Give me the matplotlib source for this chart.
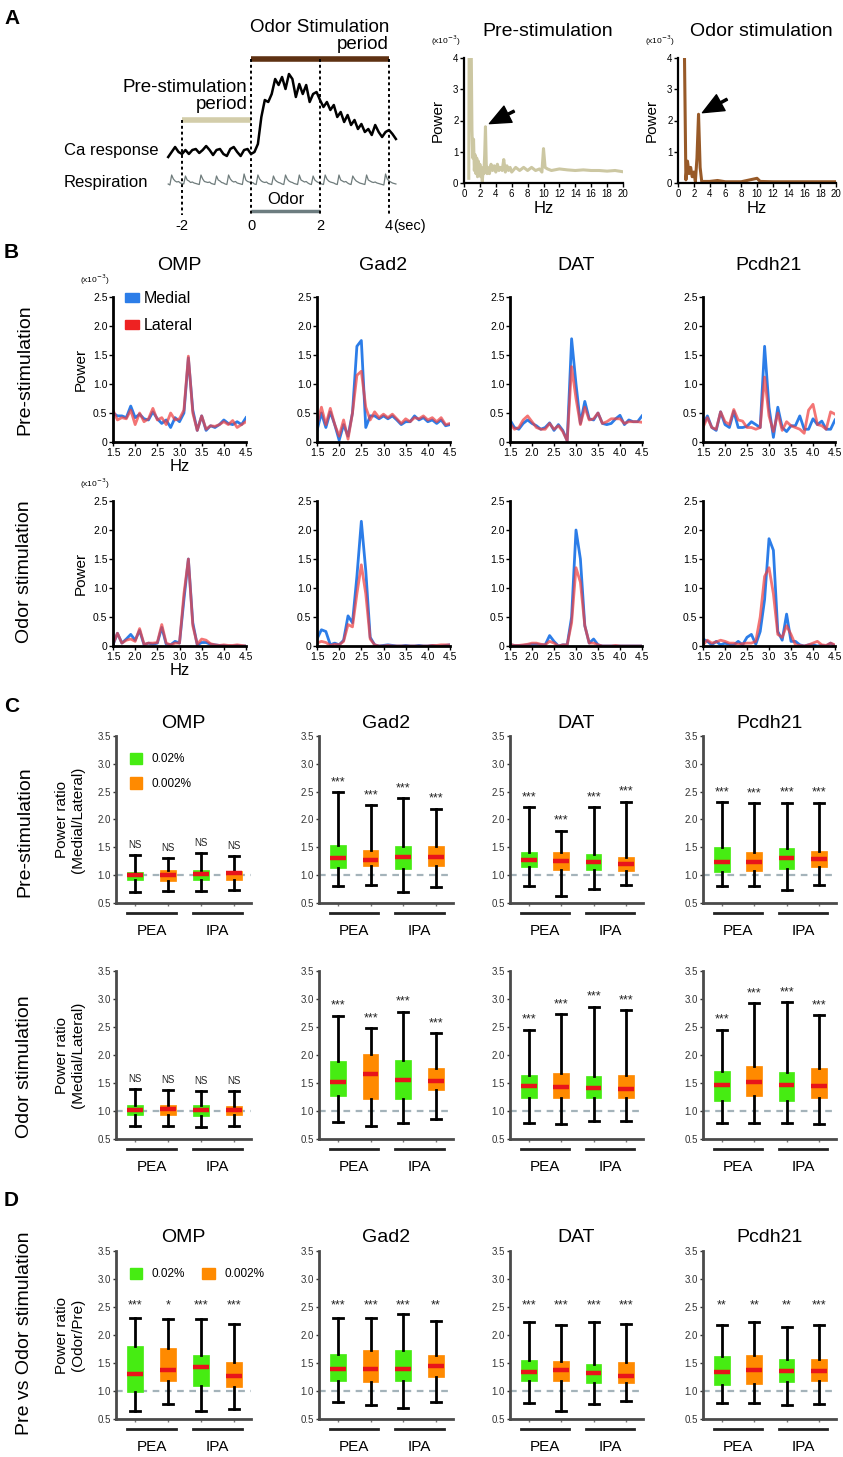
import numpy as np
import matplotlib
matplotlib.use('Agg')
import matplotlib.pyplot as plt
from matplotlib.patches import Patch
from matplotlib.transforms import blended_transform_factory

plt.rcParams['font.family'] = ['Liberation Sans', 'DejaVu Sans']

## ---------------- data ----------------
# Panel A, example traces (0.1 s / 0.05 s steps), heights in arbitrary units
ca_t = np.round(np.arange(-2.4, 4.21, 0.1), 2)
ca_resp = [-5, 0, 5, 0, -2, 2, -2, 2, 3, -1, 2, 6, 2, -3, 2, 3, -2, -4, 3, 5,
           0, -4, 2, 3, -2, 0, 8, 35, 52, 50, 58, 73, 67, 75, 63, 78, 73, 55, 68, 58,
           67, 50, 58, 60, 52, 45, 50, 42, 47, 35, 40, 30, 37, 27, 32, 23, 28, 20, 23, 17,
           27, 20, 15, 20, 22, 18, 13]
resp_t = np.round(np.arange(-2.4, 4.21, 0.05), 2)
resp = [1, 0, 10, 6, 4, 3, 3.5, 2, 1.5, 1,
        9, 5, 4, 2.5, 3, 2, 1.5, 1, 0.5,
        10, 6, 3.5, 3, 2.5, 3, 1.5, 1, 0.5,
        9, 5, 4, 2.5, 2, 1, 0.5,
        10, 6, 4, 3, 3.5, 2, 1.5, 1, 0.5,
        11, 5, 3.5, 3, 2, 2.5, 1, 0.5,
        10, 6, 4, 3, 2.5, 3, 1.5, 1, 0.5,
        9, 5, 3.5, 2.5, 2, 1, 0.5,
        10, 6, 4, 3, 2.5, 1.5, 1, 0.5,
        10, 5, 4, 3, 3.5, 2, 1, 0.5,
        9, 5, 3.5, 2.5, 2, 1, 0.5,
        10, 6, 4, 3, 2.5, 2, 1, 0.5,
        10, 5, 4, 3, 3.5, 2, 1, 0.5,
        9, 6, 4, 3, 2, 1.5, 1, 0.5,
        10, 5, 4, 3, 2.5, 3, 2, 1.5, 1, 0.5, 0,
        11, 6, 4, 3, 2, 1.5, 1]
pre_period = (-2, 0)
odor_period = (0, 4)
odor_on = (0, 2)

# Panel A, whole spectra (x10^-3)
pre_f = [0.6, 0.65, 0.9, 1.0, 1.1, 1.2, 1.3, 1.4, 1.5, 1.6, 1.7, 1.8, 1.9, 2.0, 2.1, 2.2,
         2.3, 2.4, 2.5, 2.6, 2.7, 2.8, 2.9, 3.0, 3.2, 3.4, 3.6, 3.8, 4.0, 4.2, 4.4, 4.6,
         4.8, 5.0, 5.2, 5.4, 5.6, 5.8, 6.0, 6.5, 7.0, 7.5, 8.0, 8.5, 9.0, 9.5, 9.8, 10.0,
         10.2, 10.5, 11, 12, 13, 14, 15, 16, 17, 18, 19, 20]
pre_p = [0.15, 4.5, 4.5, 1.7, 0.8, 1.4, 0.4, 0.9, 0.3, 0.8, 0.2, 0.7, 0.3, 0.6, 0.2, 0.5,
         0.05, 0.4, 0.3, 0.9, 1.8, 0.6, 0.3, 0.5, 0.3, 0.6, 0.4, 0.55, 0.35, 0.6, 0.4, 0.5,
         0.4, 0.75, 0.35, 0.55, 0.4, 0.5, 0.35, 0.5, 0.4, 0.5, 0.4, 0.5, 0.4, 0.45, 0.35, 1.1,
         0.5, 0.45, 0.4, 0.45, 0.42, 0.4, 0.42, 0.4, 0.4, 0.38, 0.4, 0.36]
odor_f = [0.8, 1.0, 1.2, 1.4, 1.6, 1.8, 2.0, 2.2, 2.4, 2.6, 2.8, 3.0, 4, 5, 6, 8, 10, 10.4,
          12, 14, 16, 18, 20]
odor_p = [4.5, 0.1, 0.7, 0.3, 0.5, 0.2, 0.35, 0.05, 0.8, 2.2, 0.5, 0.05, 0.05, 0.08, 0.04,
          0.04, 0.15, 0.05, 0.04, 0.04, 0.04, 0.04, 0.04]

# Panel B, spectra 1.5-4.5 Hz (x10^-3)
hz = np.round(np.arange(1.5, 4.51, 0.1), 2)
omp_pre_med = [0.50, 0.45, 0.45, 0.42, 0.62, 0.42, 0.48, 0.40, 0.38, 0.52, 0.40, 0.32, 0.38, 0.25, 0.42, 0.35,
               0.50, 1.45, 0.55, 0.20, 0.45, 0.20, 0.28, 0.25, 0.30, 0.38, 0.32, 0.30, 0.35, 0.30, 0.42]
omp_pre_lat = [0.55, 0.38, 0.42, 0.40, 0.55, 0.30, 0.50, 0.35, 0.40, 0.58, 0.38, 0.42, 0.30, 0.50, 0.38, 0.40,
               0.55, 1.48, 0.50, 0.20, 0.45, 0.22, 0.28, 0.27, 0.30, 0.35, 0.30, 0.37, 0.25, 0.30, 0.35]
gad2_pre_med = [0.20, 0.50, 0.25, 0.52, 0.30, 0.03, 0.30, 0.10, 0.50, 1.65, 1.75, 0.25, 0.45, 0.45, 0.40, 0.45,
                0.40, 0.45, 0.38, 0.30, 0.35, 0.35, 0.45, 0.38, 0.42, 0.35, 0.38, 0.32, 0.38, 0.28, 0.30]
gad2_pre_lat = [0.30, 0.60, 0.30, 0.58, 0.30, 0.10, 0.38, 0.05, 0.50, 1.15, 1.22, 0.60, 0.38, 0.52, 0.42, 0.48,
                0.42, 0.48, 0.40, 0.32, 0.40, 0.35, 0.42, 0.40, 0.45, 0.38, 0.42, 0.35, 0.42, 0.30, 0.32]
dat_pre_med = [0.38, 0.25, 0.22, 0.32, 0.38, 0.32, 0.28, 0.22, 0.25, 0.33, 0.20, 0.30, 0.20, 0.02, 1.78, 1.00,
               0.32, 0.70, 0.40, 0.38, 0.50, 0.32, 0.30, 0.32, 0.40, 0.46, 0.30, 0.38, 0.35, 0.35, 0.45]
dat_pre_lat = [0.32, 0.22, 0.25, 0.38, 0.45, 0.35, 0.25, 0.22, 0.22, 0.32, 0.22, 0.28, 0.18, 0.02, 1.30, 0.75,
               0.30, 0.60, 0.38, 0.40, 0.50, 0.32, 0.35, 0.40, 0.40, 0.40, 0.32, 0.35, 0.35, 0.35, 0.34]
pcdh_pre_med = [0.30, 0.45, 0.25, 0.20, 0.52, 0.30, 0.25, 0.53, 0.25, 0.25, 0.27, 0.35, 0.30, 0.25, 1.65, 0.60,
                0.08, 0.60, 0.25, 0.18, 0.28, 0.28, 0.45, 0.22, 0.22, 0.40, 0.30, 0.36, 0.22, 0.22, 0.38]
pcdh_pre_lat = [0.25, 0.42, 0.25, 0.22, 0.52, 0.35, 0.30, 0.56, 0.38, 0.36, 0.25, 0.25, 0.22, 0.25, 1.12, 0.45,
                0.18, 0.50, 0.20, 0.35, 0.28, 0.25, 0.22, 0.15, 0.55, 0.65, 0.30, 0.28, 0.22, 0.52, 0.48]
omp_odor_med = [0.02, 0.22, 0.05, 0.12, 0.20, 0.10, 0.27, 0.02, 0.05, 0.03, 0.05, 0.32, 0.03, 0.02, 0.08, 0.05,
                0.80, 1.50, 0.40, 0.02, 0.06, 0.06, 0.03, 0.02, 0.01, 0.01, 0.00, 0.00, 0.01, 0.00, 0.00]
omp_odor_lat = [0.03, 0.22, 0.05, 0.10, 0.12, 0.08, 0.30, 0.03, 0.05, 0.05, 0.06, 0.37, 0.05, 0.02, 0.05, 0.05,
                0.90, 1.50, 0.35, 0.03, 0.12, 0.10, 0.04, 0.02, 0.01, 0.02, 0.01, 0.01, 0.02, 0.01, 0.00]
gad2_odor_med = [0.12, 0.28, 0.25, 0.02, 0.05, 0.02, 0.10, 0.52, 0.40, 1.20, 2.15, 1.30, 0.15, 0.02, 0.00, 0.01,
                 0.02, 0.01, 0.00, 0.00, 0.01, 0.00, 0.00, 0.01, 0.00, 0.00, 0.01, 0.00, 0.00, 0.01, 0.02]
gad2_odor_lat = [0.05, 0.08, 0.06, 0.01, 0.03, 0.02, 0.08, 0.37, 0.33, 0.90, 1.40, 0.90, 0.12, 0.02, 0.00, 0.00,
                 0.01, 0.00, 0.00, 0.00, 0.00, 0.00, 0.00, 0.00, 0.00, 0.00, 0.01, 0.01, 0.02, 0.02, 0.02]
dat_odor_med = [0.02, 0.01, 0.01, 0.01, 0.02, 0.03, 0.03, 0.02, 0.02, 0.18, 0.08, 0.00, 0.02, 0.02, 0.50, 2.00,
                1.50, 0.35, 0.05, 0.12, 0.02, 0.00, 0.00, 0.00, 0.00, 0.00, 0.00, 0.00, 0.00, 0.00, 0.00]
dat_odor_lat = [0.03, 0.01, 0.01, 0.02, 0.03, 0.05, 0.05, 0.03, 0.02, 0.08, 0.05, 0.00, 0.02, 0.02, 0.40, 1.35,
                1.10, 0.35, 0.05, 0.05, 0.02, 0.00, 0.00, 0.00, 0.01, 0.00, 0.00, 0.00, 0.00, 0.00, 0.00]
pcdh_odor_med = [0.12, 0.08, 0.02, 0.08, 0.02, 0.05, 0.02, 0.02, 0.08, 0.02, 0.15, 0.20, 0.03, 0.25, 0.80, 1.85,
                 1.65, 0.25, 0.10, 0.55, 0.08, 0.08, 0.02, 0.00, 0.02, 0.02, 0.00, 0.01, 0.00, 0.05, 0.00]
pcdh_odor_lat = [0.02, 0.10, 0.05, 0.07, 0.10, 0.08, 0.05, 0.05, 0.03, 0.04, 0.05, 0.05, 0.08, 0.50, 1.20, 1.35,
                 0.90, 0.20, 0.15, 0.35, 0.20, 0.02, 0.01, 0.00, 0.02, 0.05, 0.08, 0.02, 0.01, 0.05, 0.02]

genes = ['OMP', 'Gad2', 'DAT', 'Pcdh21']
odors = ['PEA', 'IPA']
concs = ['0.02%', '0.002%']

# Panels C/D box stats per box: [whisker low, Q1, median, Q3, whisker high]
c_pre_omp = [[0.69, 0.92, 1.00, 1.05, 1.37], [0.71, 0.89, 1.00, 1.10, 1.31], [0.71, 0.92, 1.02, 1.09, 1.40], [0.74, 0.92, 1.03, 1.08, 1.35]]
c_pre_gad2 = [[0.81, 1.13, 1.31, 1.55, 2.49], [0.82, 1.16, 1.28, 1.45, 2.26], [0.70, 1.11, 1.32, 1.52, 2.38], [0.79, 1.17, 1.33, 1.52, 2.19]]
c_pre_dat = [[0.80, 1.14, 1.27, 1.41, 2.22], [0.63, 1.09, 1.25, 1.41, 1.80], [0.75, 1.09, 1.23, 1.38, 2.22], [0.82, 1.08, 1.20, 1.33, 2.32]]
c_pre_pcdh = [[0.81, 1.05, 1.24, 1.51, 2.31], [0.81, 1.08, 1.24, 1.42, 2.29], [0.74, 1.11, 1.30, 1.48, 2.30], [0.83, 1.15, 1.29, 1.44, 2.30]]
c_odor_omp = [[0.73, 0.92, 1.01, 1.10, 1.40], [0.73, 0.93, 1.03, 1.11, 1.38], [0.72, 0.91, 1.01, 1.11, 1.35], [0.74, 0.93, 1.02, 1.09, 1.35]]
c_odor_gad2 = [[0.80, 1.26, 1.51, 1.90, 2.70], [0.74, 1.21, 1.66, 2.01, 2.48], [0.79, 1.21, 1.55, 1.91, 2.77], [0.85, 1.38, 1.54, 1.77, 2.39]]
c_odor_dat = [[0.79, 1.23, 1.45, 1.64, 2.45], [0.77, 1.24, 1.43, 1.67, 2.73], [0.82, 1.23, 1.41, 1.63, 2.86], [0.82, 1.24, 1.40, 1.64, 2.80]]
c_odor_pcdh = [[0.79, 1.18, 1.46, 1.71, 2.45], [0.78, 1.26, 1.51, 1.80, 2.92], [0.78, 1.18, 1.46, 1.70, 2.94], [0.77, 1.24, 1.45, 1.76, 2.71]]
d_omp = [[0.64, 0.98, 1.31, 1.81, 2.31], [0.76, 1.18, 1.37, 1.76, 2.29], [0.64, 1.09, 1.43, 1.65, 2.28], [0.67, 1.07, 1.27, 1.52, 2.20]]
d_gad2 = [[0.80, 1.18, 1.40, 1.66, 2.30], [0.75, 1.16, 1.40, 1.73, 2.30], [0.70, 1.18, 1.40, 1.73, 2.37], [0.80, 1.25, 1.44, 1.65, 2.25]]
d_dat = [[0.79, 1.17, 1.34, 1.55, 2.23], [0.64, 1.17, 1.37, 1.54, 2.18], [0.76, 1.15, 1.32, 1.49, 2.23], [0.82, 1.15, 1.27, 1.51, 2.20]]
d_pcdh = [[0.79, 1.10, 1.34, 1.63, 2.18], [0.79, 1.13, 1.37, 1.64, 2.23], [0.75, 1.16, 1.36, 1.58, 2.14], [0.77, 1.18, 1.36, 1.57, 2.18]]

c_sig = [['NS'] * 4, ['***'] * 4, ['***'] * 4, ['***'] * 4]
d_sig = [['***', '*', '***', '***'], ['***', '***', '***', '**'], ['***'] * 4, ['**', '**', '**', '***']]

## ---------------- figure ----------------
W, H = 843, 1457
fig = plt.figure(figsize=(W / 100, H / 100), dpi=100)


def px_axes(l, t, r, b):
    return fig.add_axes([l / W, 1 - b / H, (r - l) / W, (b - t) / H])


def ftext(x, y, s, **kw):
    kw.setdefault('ha', 'center')
    kw.setdefault('va', 'center')
    fig.text(x / W, 1 - y / H, s, **kw)


BLUE = '#2c7de8'
RED = '#ef4040'
GREEN = '#46ec12'
ORANGE = '#ff8a00'
MEDRED = '#e8141a'

# panel letters
for lab, y in zip('ABCD', [18, 252, 707, 1200]):
    ftext(4, y, lab, ha='left', fontsize=15, fontweight='bold')

## ---- A left: traces ----
axA = px_axes(0, 0, 430, 240)
axA.set_xlim(-251 / 34.5, (430 - 251) / 34.5)
axA.set_ylim(240, 0)
axA.axis('off')
axA.plot(ca_t, 152 - np.array(ca_resp), color='black', lw=1.8)
axA.plot(resp_t, 185 - np.array(resp), color='#6f7c7c', lw=0.9)
axA.plot(odor_period, [59, 59], color='#5e3112', lw=4, solid_capstyle='butt')
axA.plot(pre_period, [120, 120], color='#d3cdaa', lw=4, solid_capstyle='butt')
axA.plot(odor_on, [211, 211], color='#6d7d80', lw=2.5, solid_capstyle='butt')
for t, top in [(pre_period[0], 120), (odor_period[0], 59), (odor_on[1], 59), (odor_period[1], 59)]:
    axA.plot([t, t], [top, 215], color='black', lw=1.4, ls=(0, (1.5, 1.5)))
axA.text(odor_period[1], 36, 'Odor Stimulation\nperiod', ha='right', va='center',
         fontsize=13.5, linespacing=0.95)
axA.text(-0.1, 96, 'Pre-stimulation\nperiod', ha='right', va='center',
         fontsize=13.5, linespacing=0.95)
axA.text((158 - 251) / 34.5, 150, 'Ca response', ha='right', va='center', fontsize=12)
axA.text((148 - 251) / 34.5, 183, 'Respiration', ha='right', va='center', fontsize=12)
axA.text(np.mean(odor_on), 200, 'Odor', ha='center', va='center', fontsize=12)
for t in [-2, 0, 2, 4]:
    axA.text(t, 226, str(t), ha='center', va='center', fontsize=10.5)
axA.text(4.12, 226, '(sec)', ha='left', va='center', fontsize=10.5)

## ---- A right: spectra ----
for (l, r), f, p, col, title, tip, tail in [
        ((464, 623), pre_f, pre_p, '#ccc7a2', 'Pre-stimulation', (3.2, 1.9), (6.3, 2.3)),
        ((678, 836), odor_f, odor_p, '#985a28', 'Odor stimulation', (3.1, 2.25), (6.2, 2.68))]:
    ax = px_axes(l, 58, r, 183)
    ax.plot(f, p, color=col, lw=2.2)
    ax.set_xlim(0, 20)
    ax.set_ylim(0, 4)
    ax.set_xticks(range(0, 21, 2))
    ax.set_yticks(range(0, 5))
    for s in ['top', 'right']:
        ax.spines[s].set_visible(False)
    for s in ['left', 'bottom']:
        ax.spines[s].set_linewidth(1.6)
    ax.tick_params(labelsize=7, length=3, width=1, pad=1)
    ax.set_xlabel('Hz', fontsize=12, labelpad=2)
    ax.set_ylabel('Power', fontsize=11, labelpad=6)
    ax.annotate('', xy=tip, xytext=tail,
                arrowprops=dict(facecolor='black', edgecolor='black', width=1.5,
                                headwidth=13, headlength=15, shrink=0))
    ftext((l + r) / 2 + 4, 32, title, fontsize=14)
    ftext(l - 18, 41, r'(x10$^{-3}$)', fontsize=6)

## ---- B: band spectra ----
b_cols = [(113, 246), (317, 450), (510, 642), (703, 835)]
b_rows = [(297, 442), (501, 646)]
b_data = [[(omp_pre_med, omp_pre_lat), (gad2_pre_med, gad2_pre_lat),
           (dat_pre_med, dat_pre_lat), (pcdh_pre_med, pcdh_pre_lat)],
          [(omp_odor_med, omp_odor_lat), (gad2_odor_med, gad2_odor_lat),
           (dat_odor_med, dat_odor_lat), (pcdh_odor_med, pcdh_odor_lat)]]
for ri, (t, b) in enumerate(b_rows):
    for ci, (l, r) in enumerate(b_cols):
        ax = px_axes(l, t, r, b)
        med, lat = b_data[ri][ci]
        ax.plot(hz, med, color=BLUE, lw=2)
        ax.plot(hz, lat, color=RED, lw=2, alpha=0.72)
        ax.set_xlim(1.5, 4.5)
        ax.set_ylim(0, 2.5)
        ax.set_xticks([1.5, 2.0, 2.5, 3.0, 3.5, 4.0, 4.5])
        ax.set_xticklabels(['1.5', '2.0', '2.5', '3.0', '3.5', '4.0', '4.5'])
        ax.set_yticks([0, 0.5, 1.0, 1.5, 2.0, 2.5])
        ax.set_yticklabels(['0', '0.5', '1.0', '1.5', '2.0', '2.5'])
        for s in ['top', 'right']:
            ax.spines[s].set_visible(False)
        for s in ['left', 'bottom']:
            ax.spines[s].set_linewidth(2)
        ax.tick_params(labelsize=7.5, length=3, width=1, pad=1)
        if ri == 0:
            ftext((l + r) / 2, 265, genes[ci], fontsize=14)
        if ci == 0:
            ax.set_ylabel('Power', fontsize=11, labelpad=4)
            ax.set_xlabel('Hz', fontsize=12, labelpad=1)
            ftext(95, t - 17, r'(x10$^{-3}$)', fontsize=6)
            if ri == 0:
                ax.legend(handles=[Patch(color=BLUE, label='Medial'), Patch(color='#ee2222', label='Lateral')],
                          loc='upper left', bbox_to_anchor=(0.09, 1.04), frameon=False, fontsize=11.5,
                          handlelength=0.9, handleheight=0.45, handletextpad=0.3, labelspacing=0.75,
                          borderpad=0, borderaxespad=0)
ftext(25, 370, 'Pre-stimulation', rotation=90, fontsize=14)
ftext(25, 572, 'Odor stimulation', rotation=90, fontsize=14)

## ---- C / D: box plots ----
cd_cols = [(116, 251), (319, 453), (510, 643), (703, 836)]
cd_rows = [(736, 903), (971, 1139), (1251, 1419)]
cd_data = [[c_pre_omp, c_pre_gad2, c_pre_dat, c_pre_pcdh],
           [c_odor_omp, c_odor_gad2, c_odor_dat, c_odor_pcdh],
           [d_omp, d_gad2, d_dat, d_pcdh]]
cd_sig = [c_sig, c_sig, d_sig]
positions = [1, 2, 3, 4]
box_colors = [GREEN, ORANGE, GREEN, ORANGE]

for ri, (t, b) in enumerate(cd_rows):
    for ci, (l, r) in enumerate(cd_cols):
        ax = px_axes(l, t, r, b)
        rows = cd_data[ri][ci]
        stats = [dict(whislo=s[0], q1=s[1], med=s[2], q3=s[3], whishi=s[4], fliers=[]) for s in rows]
        ax.axhline(1.0, color='#a4b3ba', lw=1.6, ls=(0, (3, 2.5)), zorder=0)
        bp = ax.bxp(stats, positions=positions, widths=0.48, patch_artist=True, showfliers=False,
                    capwidths=0.3,
                    medianprops=dict(color=MEDRED, lw=3.2, solid_capstyle='butt'),
                    whiskerprops=dict(color='black', lw=2),
                    capprops=dict(color='black', lw=2))
        for patch, c in zip(bp['boxes'], box_colors):
            patch.set_facecolor(c)
            patch.set_edgecolor(c)
            patch.set_linewidth(0.5)
        for k, s in enumerate(rows):
            lab = cd_sig[ri][ci][k]
            y = 2.53 if ri == 2 else s[4] + 0.18
            ax.text(positions[k], y, lab, ha='center', va='center', color='#222222',
                    fontsize=7 if lab == 'NS' else 9)
        ax.set_xlim(0.42, 4.52)
        ax.set_ylim(0.5, 3.5)
        ax.set_yticks([0.5, 1.0, 1.5, 2.0, 2.5, 3.0, 3.5])
        ax.set_yticklabels(['0.5', '1.0', '1.5', '2.0', '2.5', '3.0', '3.5'])
        ax.set_xticks(positions)
        ax.set_xticklabels([])
        for s in ['top', 'right']:
            ax.spines[s].set_visible(False)
        for s in ['left', 'bottom']:
            ax.spines[s].set_linewidth(2)
            ax.spines[s].set_color('#4a4a4a')
        ax.tick_params(axis='y', labelsize=7, length=2.5, width=1, pad=1, colors='#333333')
        ax.tick_params(axis='x', length=2.5, width=1, colors='#777777')
        trans = blended_transform_factory(ax.transData, ax.transAxes)
        for g, name in enumerate(odors):
            x0 = positions[2 * g] - 0.24
            x1 = positions[2 * g + 1] + 0.24
            ax.plot([x0, x1], [-0.06, -0.06], transform=trans, clip_on=False, color='#222222', lw=2)
            ax.text((x0 + x1) / 2, -0.165, name, transform=trans, ha='center', va='center', fontsize=11)
        if ri != 1:
            ftext((l + r) / 2, t - 13, genes[ci], fontsize=14)
        if ci == 0:
            handles = [Patch(color=GREEN, label=concs[0]), Patch(color=ORANGE, label=concs[1])]
            if ri == 0:
                ax.legend(handles=handles, loc='upper left', bbox_to_anchor=(0.1, 0.9), frameon=False,
                          fontsize=8.5, handlelength=1.1, handleheight=1.1, handletextpad=0.8,
                          labelspacing=1.0, borderpad=0, borderaxespad=0)
            elif ri == 2:
                ax.legend(handles=handles, loc='upper left', bbox_to_anchor=(0.1, 0.9), frameon=False,
                          fontsize=8.5, handlelength=1.1, handleheight=1.1, handletextpad=0.8, ncol=2,
                          columnspacing=1.4, borderpad=0, borderaxespad=0)

ftext(70, 820, 'Power ratio\n(Medial/Lateral)', rotation=90, fontsize=11, linespacing=1.1)
ftext(70, 1055, 'Power ratio\n(Medial/Lateral)', rotation=90, fontsize=11, linespacing=1.1)
ftext(70, 1335, 'Power ratio\n(Odor/Pre)', rotation=90, fontsize=11, linespacing=1.1)
ftext(25, 832, 'Pre-stimulation', rotation=90, fontsize=14)
ftext(25, 1067, 'Odor stimulation', rotation=90, fontsize=14)
ftext(25, 1333, 'Pre vs Odor stimulation', rotation=90, fontsize=14)

fig.savefig('out.png', dpi=100)
